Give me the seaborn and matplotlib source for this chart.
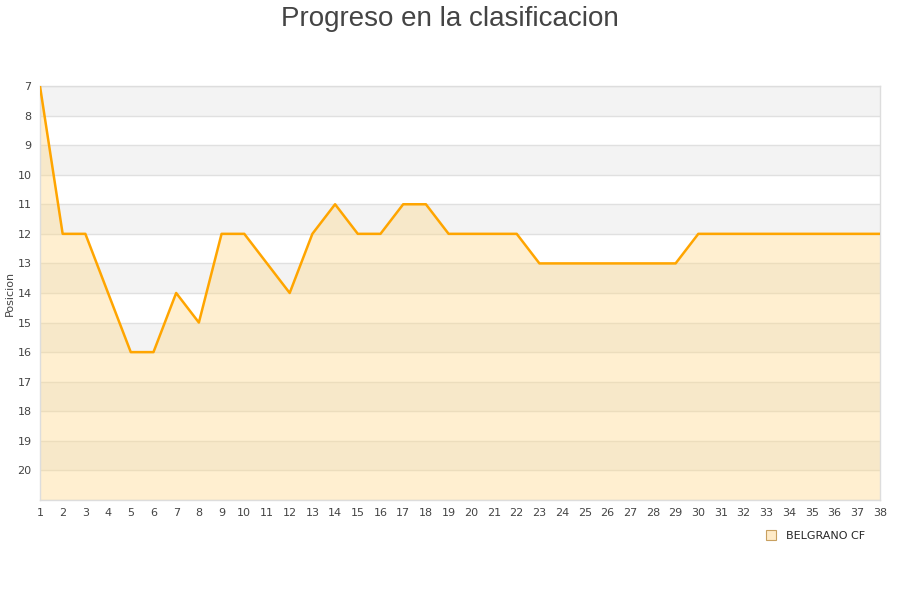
import numpy as np
import pandas as pd
import seaborn as sns
import matplotlib.pyplot as plt
from matplotlib.lines import Line2D

# Jornadas und Positionen
jornadas = list(range(1, 39))
posiciones = [7, 12, 12, 14, 16, 16, 14, 15, 12, 12, 13, 14, 12, 11, 12, 12, 11, 11, 12,
              12, 12, 12, 13, 13, 13, 13, 13, 13, 13, 12, 12, 12, 12, 12, 12, 12, 12, 12]
equipo = "BELGRANO CF"

df = pd.DataFrame({"jornada": jornadas, "posicion": posiciones})

sns.set_theme(style="white")
plt.rcParams["font.family"] = ["DejaVu Sans"]

fig = plt.figure(figsize=(9, 6), dpi=100)
ax = fig.add_axes([0.0444, 0.1667, 0.9333, 0.69])

# Abwechselnde Bänder
for y in range(7, 21, 2):
    ax.axhspan(y, y + 1, color="#f3f3f3", zorder=0, lw=0)
for y in range(7, 22):
    ax.axhline(y, color="#e0e0e0", lw=1, zorder=1)

ax.fill_between(df["jornada"], df["posicion"], 21, color="#ffd98a", alpha=0.4, lw=0, zorder=2)
sns.lineplot(data=df, x="jornada", y="posicion", color="#ffa500", linewidth=1.8, ax=ax, zorder=3)

ax.set_xlim(1, 38)
ax.set_ylim(21, 7)
ax.set_xticks(jornadas)
ax.set_yticks(range(7, 21))
ax.tick_params(axis="both", labelsize=8, colors="#444444", length=0, pad=6)
ax.set_xlabel("")
ax.set_ylabel("Posicion", fontsize=8, color="#444444", labelpad=2)

for s in ax.spines.values():
    s.set_color("#dddddd")
    s.set_linewidth(1)

fig.suptitle("Progreso en la clasificacion", fontsize=20, color="#444444", y=0.99,
             family=["Liberation Sans", "DejaVu Sans"])

handle = Line2D([], [], marker="s", linestyle="none", markersize=7,
                markerfacecolor="#ffebc8", markeredgecolor="#c8a060", markeredgewidth=0.8)
fig.legend([handle], [equipo], loc="center", bbox_to_anchor=(0.903, 0.107),
           frameon=False, fontsize=8, handletextpad=0.4)

plt.savefig("out.png")
